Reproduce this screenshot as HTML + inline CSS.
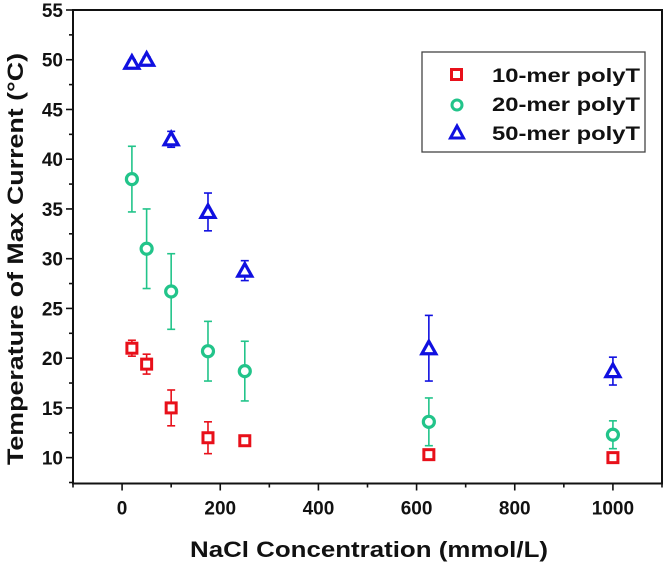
<!DOCTYPE html>
<html><head><meta charset="utf-8">
<style>
html,body{margin:0;padding:0;background:#fff;}
svg{display:block;font-family:"Liberation Sans",Arial,sans-serif;}
</style></head>
<body>
<svg id="chart" width="664" height="563" viewBox="0 0 664 563">
  <g id="axes"></g>
  <g id="marks"></g>
  <text x="190" y="557" textLength="358" lengthAdjust="spacingAndGlyphs" font-size="22" font-weight="bold" fill="#111">NaCl Concentration (mmol/L)</text>
  <text transform="translate(23,465) rotate(-90)" textLength="412" lengthAdjust="spacingAndGlyphs" font-size="22" font-weight="bold" fill="#111">Temperature of Max Current (°C)</text>
  <g>
    <rect x="422" y="52" width="223" height="100" fill="#fff" stroke="#444" stroke-width="1.3"/>
    <rect x="451.5" y="69.5" width="10" height="10" fill="none" stroke="#e8101a" stroke-width="3"/>
    <text x="492" y="82" textLength="148" lengthAdjust="spacingAndGlyphs" font-size="19" font-weight="bold" fill="#111">10-mer polyT</text>
    <circle cx="457" cy="105" r="5" fill="none" stroke="#22c48a" stroke-width="3"/>
    <text x="492" y="111" textLength="148" lengthAdjust="spacingAndGlyphs" font-size="19" font-weight="bold" fill="#111">20-mer polyT</text>
    <polygon points="457,126 450.5,138 463.5,138" fill="none" stroke="#1010e0" stroke-width="3"/>
    <text x="492" y="140" textLength="148" lengthAdjust="spacingAndGlyphs" font-size="19" font-weight="bold" fill="#111">50-mer polyT</text>
  </g>
</svg>
<script>
const xValues = [20, 50, 100, 175, 250, 625, 1000];
const y10 = [21, 19.4, 15, 12, 11.7, 10.3, 10];
const e10 = [0.8, 1.0, 1.8, 1.6, 0.2, 0.2, 0.2];
const y20 = [38, 31, 26.7, 20.7, 18.7, 13.6, 12.3];
const e20 = [3.3, 4.0, 3.8, 3.0, 3.0, 2.4, 1.4];
const y50 = [49.7, 50, 42, 34.7, 28.8, 21, 18.7];
const e50 = [0.3, 0.3, 0.8, 1.9, 1.0, 3.3, 1.4];
const xTicks = [0, 200, 400, 600, 800, 1000];
const yTicks = [10, 15, 20, 25, 30, 35, 40, 45, 50, 55];

const L = 73, R = 662, T = 10, B = 483.5;
const XMIN = -100, XMAX = 1100, YMIN = 7.4, YMAX = 55;
function sx(v){ return L + (v - XMIN) / (XMAX - XMIN) * (R - L); }
function sy(v){ return B - (v - YMIN) / (YMAX - YMIN) * (B - T); }
const NS = "http://www.w3.org/2000/svg";
function mk(tag, attrs, parent){
  const el = document.createElementNS(NS, tag);
  for (const k in attrs) el.setAttribute(k, attrs[k]);
  parent.appendChild(el);
  return el;
}
const axes = document.getElementById('axes');
const marks = document.getElementById('marks');

const frame = mk('rect', {x:L, y:T, width:R-L, height:B-T, fill:'none', stroke:'#111', 'stroke-width':2}, axes);



for (let v = -100; v <= 1100; v += 100) {
  const major = v % 200 === 0;
  const t = mk('line', {x1:sx(v), x2:sx(v), y1:B, y2:B + (major ? 7 : 4), stroke:'#111', 'stroke-width':1.6}, axes);
  
  
}
xTicks.forEach(v => {
  const t = mk('text', {x:sx(v), y:B + 31, 'text-anchor':'middle', 'font-size':19, 'font-weight':'bold', fill:'#111'}, axes);
  t.textContent = v;
  
  
});
for (let v = 7.5; v <= 55; v += 2.5) {
  const major = v % 5 === 0;
  const t = mk('line', {x1:L - (major ? 7 : 4), x2:L, y1:sy(v), y2:sy(v), stroke:'#111', 'stroke-width':1.6}, axes);
  
  
}
yTicks.forEach(v => {
  const t = mk('text', {x:L - 10, y:sy(v) + 7, 'text-anchor':'end', 'font-size':19, 'font-weight':'bold', fill:'#111'}, axes);
  t.textContent = v;
  
  
});

function errBar(x, y, e, color, name){
  const g = mk('g', {stroke:color, 'stroke-width':1.6}, marks);
  
  
  const px = sx(x), y1 = sy(y + e), y2 = sy(y - e);
  mk('line', {x1:px, x2:px, y1:y1, y2:y2}, g);
  mk('line', {x1:px - 4, x2:px + 4, y1:y1, y2:y1}, g);
  mk('line', {x1:px - 4, x2:px + 4, y1:y2, y2:y2}, g);
}
xValues.forEach((x, i) => {
  errBar(x, y20[i], e20[i], '#22c48a', 'error-bar-20mer');
  errBar(x, y10[i], e10[i], '#e8101a', 'error-bar-10mer');
  errBar(x, y50[i], e50[i], '#1010e0', 'error-bar-50mer');
});
xValues.forEach((x, i) => {
  const c = mk('circle', {cx:sx(x), cy:sy(y20[i]), r:5.5, fill:'#fff', stroke:'#22c48a', 'stroke-width':3.2}, marks);
  
  
  const px = sx(x), py = sy(y10[i]);
  const s = mk('rect', {x:px - 5, y:py - 5, width:10, height:10, fill:'#fff', stroke:'#e8101a', 'stroke-width':3}, marks);
  
  
  const tx = sx(x), ty = sy(y50[i]);
  const p = mk('polygon', {points:`${tx},${ty-7} ${tx-7},${ty+5.5} ${tx+7},${ty+5.5}`, fill:'#fff', stroke:'#1010e0', 'stroke-width':3.2}, marks);
  
  
});
</script>
</body></html>
